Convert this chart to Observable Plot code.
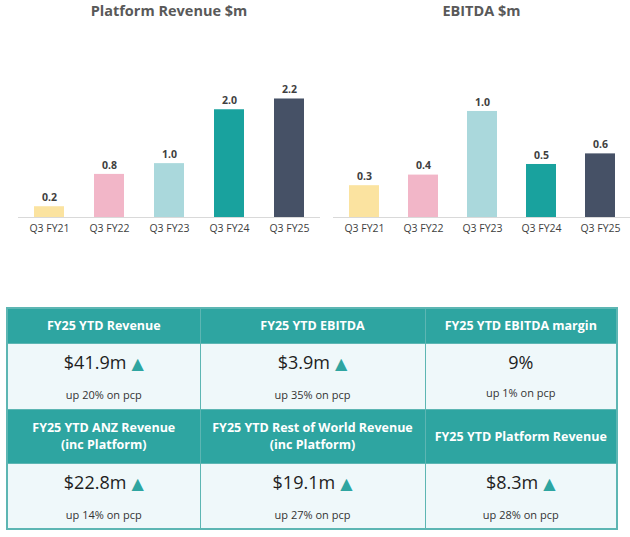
<!DOCTYPE html>
<html>
<head>
<meta charset="utf-8">
<script src="https://cdn.jsdelivr.net/npm/d3@7"></script>
<script src="https://cdn.jsdelivr.net/npm/@observablehq/plot@0.6"></script>
<style>
  html, body { margin: 0; padding: 0; background: #fff; }
  body { width: 630px; height: 537px; position: relative; font-family: "Open Sans", "Lato", sans-serif; overflow: hidden; }
  .chart { position: absolute; top: 0; }
  .title { position: absolute; top: 1px; font-weight: 700; font-size: 14.5px; color: #595959; text-align: center; white-space: nowrap; }
  .svgwrap { position: absolute; top: 30px; }
  table.kpi { position: absolute; left: 6px; top: 307px; width: 610px; border-collapse: collapse; table-layout: fixed; border: 2px solid #5db6b3; }
  table.kpi td { text-align: center; padding: 0; border: 1.5px solid #5db6b3; }
  table.kpi td.h { background: #2ea5a1; color: #fff; font-weight: 700; font-size: 12.5px; line-height: 17px; }
  table.kpi td.v { background: #eff8fa; vertical-align: top; }
  .val { font-size: 18px; color: #1e1e1e; margin-top: 6px; line-height: 24px; }
  .tri { color: #2ea5a1; font-size: 16px; margin-left: 5px; font-family: "DejaVu Sans", sans-serif; }
  .sub { font-size: 11px; color: #333; margin-top: 12px; line-height: 14px; }
</style>
</head>
<body>
<script>
// ---- data ----
const quarters = ["Q3 FY21", "Q3 FY22", "Q3 FY23", "Q3 FY24", "Q3 FY25"];
const barColors = ["#fbe3a0", "#f2b6c8", "#aad8dc", "#19a29e", "#465166"];
const platformRevenue = [0.2, 0.8, 1.0, 2.0, 2.2];
const ebitda = [0.3, 0.4, 1.0, 0.5, 0.6];
const chartTitles = ["Platform Revenue $m", "EBITDA $m"];

const kpiHeadersRow1 = ["FY25 YTD Revenue", "FY25 YTD EBITDA", "FY25 YTD EBITDA margin"];
const kpiValuesRow1 = ["$41.9m", "$3.9m", "9%"];
const kpiUpRow1 = [true, true, false];
const kpiSubsRow1 = ["up 20% on pcp", "up 35% on pcp", "up 1% on pcp"];
const kpiHeadersRow2 = ["FY25 YTD ANZ Revenue<br>(inc Platform)", "FY25 YTD Rest of World Revenue<br>(inc Platform)", "FY25 YTD Platform Revenue"];
const kpiValuesRow2 = ["$22.8m", "$19.1m", "$8.3m"];
const kpiUpRow2 = [true, true, true];
const kpiSubsRow2 = ["up 14% on pcp", "up 27% on pcp", "up 28% on pcp"];

function makeChart(values, title, left, width, marginLeft, marginRight, yMax) {
  const data = quarters.map((q, i) => ({q, v: values[i], c: barColors[i]}));
  const box = document.createElement("div");
  box.className = "chart";
  box.style.left = left + "px";
  box.style.width = width + "px";
  const t = document.createElement("div");
  t.className = "title";
  t.style.left = marginLeft + "px";
  t.style.width = (width - marginLeft - marginRight) + "px";
  t.textContent = title;
  box.appendChild(t);
  const plot = Plot.plot({
    width, height: 215,
    marginLeft, marginRight, marginTop: 20, marginBottom: 28,
    style: {fontFamily: "'Open Sans', sans-serif", fontSize: "10.5px", color: "#404040", background: "transparent"},
    x: {domain: quarters, paddingInner: 0.5, paddingOuter: 0.26, label: null, tickSize: 0, tickPadding: 7},
    y: {domain: [0, yMax], axis: null},
    color: {type: "identity"},
    marks: [
      Plot.barY(data, {x: "q", y: "v", fill: "c"}),
      Plot.ruleY([0], {stroke: "#d9d9d9", strokeWidth: 1.2}),
      Plot.text(data, {x: "q", y: "v", text: d => d.v.toFixed(1), dy: -9, fontWeight: "bold", fontSize: 10.5, fill: "#404040"})
    ]
  });
  const wrap = document.createElement("div");
  wrap.className = "svgwrap";
  wrap.appendChild(plot);
  box.appendChild(wrap);
  document.body.appendChild(box);
}

makeChart(platformRevenue, chartTitles[0], 0, 322, 18, 2, 3.1);
makeChart(ebitda, chartTitles[1], 315, 315, 18, 0, 1.575);

// ---- KPI table ----
function row(headers, h) {
  return `<tr style='height:${h}px'>` + headers.map(x => `<td class="h">${x}</td>`).join("") + "</tr>";
}
function vrow(vals, ups, subs) {
  return "<tr style='height:66px'>" + vals.map((v, i) =>
    `<td class="v"><div class="val">${v}${ups[i] ? '<span class="tri">▲</span>' : ''}</div><div class="sub">${subs[i]}</div></td>`
  ).join("") + "</tr>";
}
const table = document.createElement("table");
table.className = "kpi";
table.innerHTML =
  "<colgroup><col style='width:193px'><col style='width:225px'><col style='width:192px'></colgroup>" +
  row(kpiHeadersRow1, 35) + vrow(kpiValuesRow1, kpiUpRow1, kpiSubsRow1) +
  row(kpiHeadersRow2, 54) + vrow(kpiValuesRow2, kpiUpRow2, kpiSubsRow2);
document.body.appendChild(table);
</script>
</body>
</html>
